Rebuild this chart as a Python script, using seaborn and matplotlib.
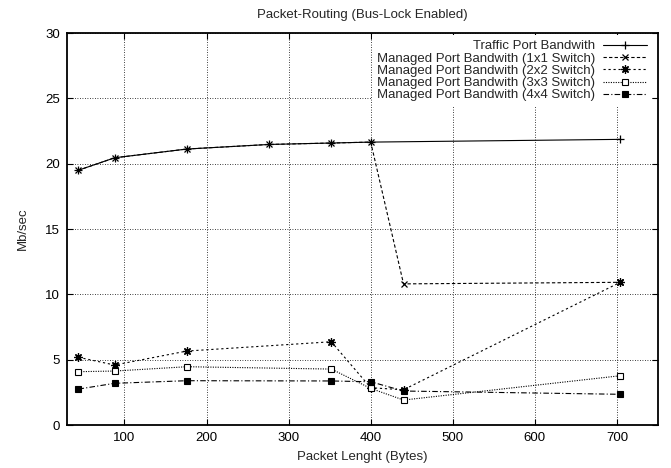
import matplotlib
matplotlib.use("Agg")
import matplotlib.pyplot as plt
import seaborn as sns
import pandas as pd

# ---- data ----
traffic_x = [44, 88, 176, 276, 352, 400, 704]
traffic_y = [19.5, 20.45, 21.12, 21.47, 21.58, 21.65, 21.86]

sw1_x = [44, 88, 176, 276, 352, 400, 440, 704]
sw1_y = [19.5, 20.45, 21.12, 21.47, 21.58, 21.65, 10.8, 10.92]

sw2_x = [44, 88, 176, 352, 400, 440, 704]
sw2_y = [5.18, 4.59, 5.66, 6.37, 2.85, 2.7, 10.92]

sw3_x = [44, 88, 176, 352, 400, 440, 704]
sw3_y = [4.08, 4.13, 4.46, 4.28, 2.8, 1.91, 3.77]

sw4_x = [44, 88, 176, 352, 400, 440, 704]
sw4_y = [2.75, 3.19, 3.39, 3.37, 3.31, 2.6, 2.35]

labels = [
    "Traffic Port Bandwith",
    "Managed Port Bandwith (1x1 Switch)",
    "Managed Port Bandwith (2x2 Switch)",
    "Managed Port Bandwith (3x3 Switch)",
    "Managed Port Bandwith (4x4 Switch)",
]
x_ticks = [100, 200, 300, 400, 500, 600, 700]
y_ticks = [0, 5, 10, 15, 20, 25, 30]

FS = 9.5
sns.set_theme(style="white")
plt.rcParams["font.family"] = ["Liberation Sans", "DejaVu Sans"]
plt.rcParams["font.size"] = FS

fig = plt.figure(figsize=(6.71, 4.68), dpi=100)
ax = fig.add_axes([67 / 671, 1 - 425 / 468, 591 / 671, 392 / 468])

series = [
    (traffic_x, traffic_y, dict(marker="+", linestyle="-", markersize=6,
                                markeredgewidth=0.9)),
    (sw1_x, sw1_y, dict(marker="x", linestyle=(0, (3, 2)), markersize=5,
                        markeredgewidth=0.9)),
    (sw2_x, sw2_y, dict(marker=(8, 2, 0), linestyle=(0, (2, 2.5)), markersize=6,
                        markeredgewidth=0.9)),
    (sw3_x, sw3_y, dict(marker="s", linestyle=(0, (1, 1.2)), markersize=5,
                        markerfacecolor="white", markeredgewidth=0.8)),
    (sw4_x, sw4_y, dict(marker="s", linestyle=(0, (5, 2, 1, 2)), markersize=5,
                        markerfacecolor="black", markeredgewidth=0.8)),
]

for (xs, ys, kw), lab in zip(series, labels):
    df = pd.DataFrame({"x": xs, "y": ys})
    sns.lineplot(data=df, x="x", y="y", ax=ax, color="black", linewidth=0.8,
                 markeredgecolor="black", label=lab, **kw)

ax.set_xlim(30, 750)
ax.set_ylim(0, 30)
ax.set_xticks(x_ticks)
ax.set_yticks(y_ticks)
ax.grid(True, color="black", linestyle=(0, (1, 2)), linewidth=0.6)
ax.tick_params(direction="in", length=4, width=0.8, top=True, right=True,
               bottom=True, left=True, labelsize=FS, colors="black", pad=5)
for s in ax.spines.values():
    s.set_color("black")
    s.set_linewidth(1.3)

ax.set_title("Packet-Routing (Bus-Lock Enabled)", fontsize=FS, pad=11)
ax.set_xlabel("Packet Lenght (Bytes)", fontsize=FS, labelpad=5)
ax.set_ylabel("Mb/sec", fontsize=FS, labelpad=12)

leg = ax.legend(loc="upper right", bbox_to_anchor=(0.99, 0.995),
                borderaxespad=0, markerfirst=False, handlelength=3.3,
                handletextpad=0.6, labelspacing=0.0, frameon=True,
                fancybox=False, framealpha=1, borderpad=0.4, fontsize=FS)
leg.get_frame().set_edgecolor("none")
leg.get_frame().set_facecolor("white")
for t in leg.get_texts():
    t.set_ha("right")
leg._legend_box.align = "right"

fig.savefig("out.png", dpi=100)
